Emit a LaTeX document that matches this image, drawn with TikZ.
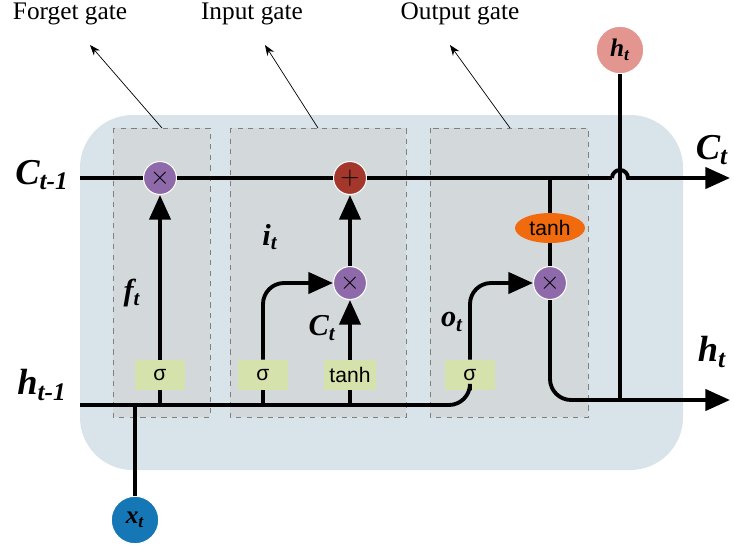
\documentclass[tikz,border=0pt]{standalone}
\usepackage{fontspec}
\setmainfont{Liberation Serif}
\newfontfamily\sansf{Liberation Sans}
\usetikzlibrary{arrows.meta,shapes.geometric}
\definecolor{cellbg}{HTML}{D9E3EA}
\definecolor{gatebg}{HTML}{D3D8DB}
\definecolor{opviolet}{HTML}{8E6AAA}
\definecolor{opred}{HTML}{A4372C}
\definecolor{layergreen}{HTML}{D6E2AC}
\definecolor{tanhorange}{HTML}{F26A0E}
\definecolor{hpink}{HTML}{E3968F}
\definecolor{xblue}{HTML}{1577B5}
\begin{document}
\begin{tikzpicture}[x=0.02cm, y=-0.02cm,
    flow/.style={line width=2.2pt, rounded corners=12},
    tip/.style={-{Triangle[length=14pt,width=12pt]}},
    op/.style={circle, draw=white, line width=0.6pt, fill=opviolet, minimum size=0.66cm, inner sep=0pt, font=\sansf\Large},
    layer/.style={rectangle, fill=layergreen, minimum width=1cm, minimum height=0.6cm, font=\sansf\large},
    gatebox/.style={draw=gray, dashed, fill=gatebg},
    io/.style={circle, draw=white, line width=0.6pt, minimum size=0.95cm, inner sep=0pt, font=\Large\bfseries\itshape},
    lbl/.style={font=\LARGE\bfseries\itshape},
    caption/.style={font=\Large},
    pointer/.style={-{Stealth[length=6pt]}, thin}
]
\useasboundingbox (0,0) rectangle (734,555);
\fill[cellbg, rounded corners=30] (80,115) rectangle (683,470);
\draw[gatebox] (113,128) rectangle (210,417);
\draw[gatebox] (230,128) rectangle (406,417);
\draw[gatebox] (430,128) rectangle (588,417);

% operators and layers
\node[op] (mulf) at (160,178) {$\times$};
\node[op, fill=opred] (add) at (350,178) {$+$};
\node[op] (muli) at (350,283) {$\times$};
\node[op] (mulo) at (550,283) {$\times$};
\node[layer] (sigf) at (160,375) {σ};
\node[layer] (sigi) at (263,375) {σ};
\node[layer] (tanhc) at (350,375) {tanh};
\node[layer] (sigo) at (470,375) {σ};
\node[ellipse, fill=tanhorange, minimum width=1.4cm, minimum height=0.6cm, inner sep=0pt, font=\sansf\large] (tanho) at (550,228) {tanh};
\node[io, fill=hpink] (hout) at (620,50) {h\textsubscript{t}};
\node[io, fill=xblue] (xin) at (135,520) {x\textsubscript{t}};

% coordinates
\coordinate (cin) at (80,178);
\coordinate (cout) at (730,178);
\coordinate (hin) at (80,405);
\coordinate (hend) at (730,400);
\coordinate (cdown) at (550,178);

% cell state
\draw[flow] (cin) -- (mulf) -- (add) -- (612,178);
\draw[line width=2.2pt, tip] (612,178) arc[start angle=180, end angle=360, radius=8] -- (cout);
% hidden input
\draw[flow] (hin) -- (470,405) -- (sigo);
\draw[flow] (xin) -- (135,405);
\draw[flow] (sigf |- 0,405) -- (sigf);
\draw[flow] (sigi |- 0,405) -- (sigi);
\draw[flow] (tanhc |- 0,405) -- (tanhc);
% gates
\draw[flow, tip] (sigf) -- (mulf);
\draw[flow, tip] (sigi) -- (263,283) -- (muli);
\draw[flow, tip] (tanhc) -- (muli);
\draw[flow, tip] (muli) -- (add);
\draw[flow, tip] (sigo) -- (470,283) -- (mulo);
\draw[flow] (cdown) -- (tanho);
\draw[flow] (tanho) -- (mulo);
\draw[flow, tip] (mulo) -- (550,400) -- (hend);
\draw[flow] (620,400) -- (hout);

% labels
\node[lbl, font=\huge\bfseries\itshape] (clast) at (42,175) {C\textsubscript{\Large t-1}};
\node[lbl, font=\huge\bfseries\itshape] (cnow) at (712,150) {C\textsubscript{\Large t}};
\node[lbl, font=\huge\bfseries\itshape] (hlast) at (42,385) {h\textsubscript{\Large t-1}};
\node[lbl, font=\huge\bfseries\itshape] (hnow) at (712,352) {h\textsubscript{\Large t}};
\node[lbl] at (132,293) {f\textsubscript{t}};
\node[lbl] at (270,237) {i\textsubscript{t}};
\node[lbl] at (322,328) {C\textsubscript{t}};
\node[lbl] at (452,322) {o\textsubscript{t}};

\node[caption] (fg) at (70,14) {Forget gate};
\node[caption] (ig) at (252,14) {Input gate};
\node[caption] (og) at (460,14) {Output gate};
\draw[pointer] (162,128) -- (90,45);
\draw[pointer] (318,128) -- (265,45);
\draw[pointer] (510,128) -- (450,45);
\end{tikzpicture}
\end{document}
